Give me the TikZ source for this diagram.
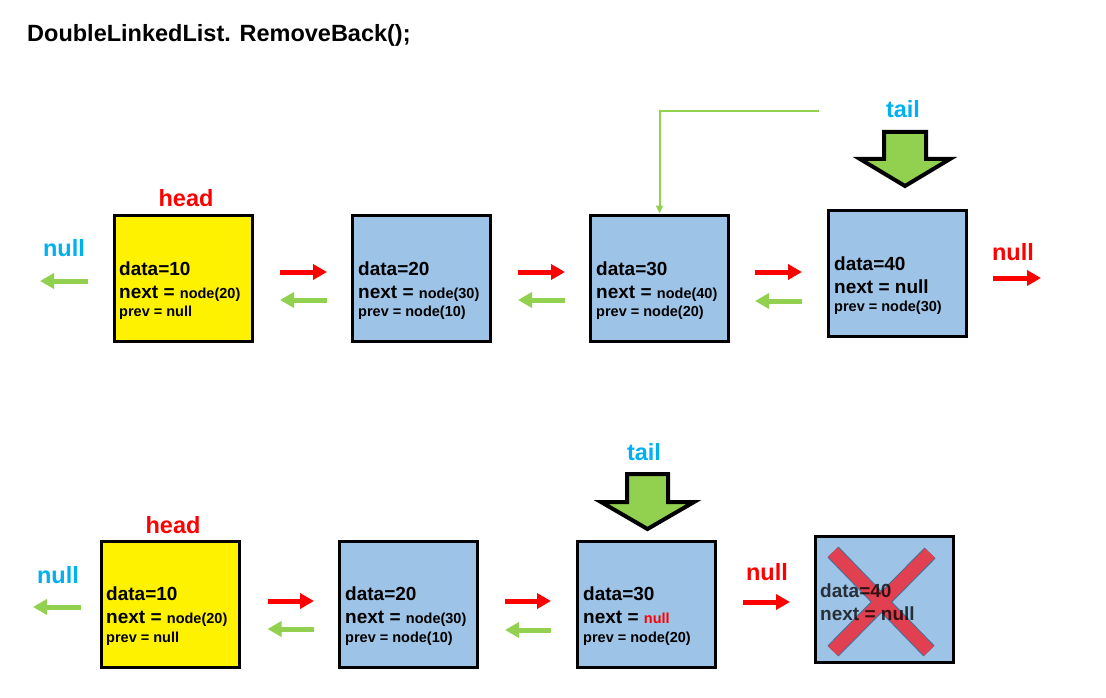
\documentclass[tikz,border=0pt]{standalone}
\usepackage{fontspec}
\setmainfont{Liberation Sans}
\usetikzlibrary{arrows.meta}
\definecolor{boxblue}{HTML}{9DC3E6}
\definecolor{lgreen}{HTML}{92D050}
\definecolor{skyblue}{HTML}{00B0F0}
\definecolor{xred}{HTML}{E0404F}
\definecolor{xedge}{HTML}{41719C}
\newcommand\smtxt{\fontsize{14.5}{15}\selectfont}
\begin{document}
\begin{tikzpicture}[x=1pt,y=-1pt,
  box/.style={draw=black, line width=3pt, minimum width=138pt, minimum height=126pt, inner sep=0pt},
  yellowbox/.style={box, fill=yellow},
  bluebox/.style={box, fill=boxblue},
  txt/.style={anchor=base west, inner sep=0pt, font=\bfseries\fontsize{19}{19}\selectfont},
  stxt/.style={anchor=base west, inner sep=0pt, font=\bfseries\smtxt},
  lbl/.style={anchor=base, inner sep=0pt, font=\bfseries\fontsize{23.5}{23.5}\selectfont},
  redarr/.style={draw=red, line width=5pt, -{Triangle[length=14pt,width=15pt]}},
  grnarr/.style={draw=lgreen, line width=5pt, -{Triangle[length=14pt,width=15pt]}},
  ptrline/.style={draw=lgreen, line width=2pt, -{Triangle[length=8pt,width=7pt]}},
  bigarrow/.style={draw=black, line width=4pt, fill=lgreen, line join=miter}
]
\useasboundingbox (0,0) rectangle (1106,698);
\node[anchor=base west, inner sep=0pt, font=\bfseries\fontsize{23.5}{23.5}\selectfont] (title) at (27,42) {DoubleLinkedList. RemoveBack();};

% ---------- top row ----------
\node[yellowbox] (b1) at (183.5,278) {};
\node[bluebox] (b2) at (421.5,278) {};
\node[bluebox] (b3) at (659.5,278) {};
\node[bluebox] (b4) at (897.5,273) {};

\node[txt] (b1a) at (119,275) {data=10};
\node[txt] (b1b) at (119,298) {next = {\smtxt node(20)}};
\node[stxt] (b1c) at (119,316) {prev = null};
\node[txt] (b2a) at (358,275) {data=20};
\node[txt] (b2b) at (358,298) {next = {\smtxt node(30)}};
\node[stxt] (b2c) at (358,316) {prev = node(10)};
\node[txt] (b3a) at (596,275) {data=30};
\node[txt] (b3b) at (596,298) {next = {\smtxt node(40)}};
\node[stxt] (b3c) at (596,316) {prev = node(20)};
\node[txt] (b4a) at (834,270) {data=40};
\node[txt] (b4b) at (834,293) {next = null};
\node[stxt] (b4c) at (834,311) {prev = node(30)};

\node[lbl, red] (headA) at (186,207) {head};
\node[lbl, skyblue] (tailA) at (903,118) {tail};
\node[lbl, skyblue] (nullLA) at (64,256) {null};
\node[lbl, red] (nullRA) at (1013,260) {null};

\draw[redarr, shorten <=26pt, shorten >=24pt] ([yshift=6pt]b1.east) -- ([yshift=6pt]b2.west);
\draw[grnarr, shorten <=24pt, shorten >=26pt] ([yshift=-22pt]b2.west) -- ([yshift=-22pt]b1.east);
\draw[redarr, shorten <=26pt, shorten >=24pt] ([yshift=6pt]b2.east) -- ([yshift=6pt]b3.west);
\draw[grnarr, shorten <=24pt, shorten >=26pt] ([yshift=-22pt]b3.west) -- ([yshift=-22pt]b2.east);
\draw[redarr, shorten <=25pt, shorten >=25pt] ([yshift=6pt]b3.east) -- ([yshift=1pt]b4.west);
\draw[grnarr, shorten <=25pt, shorten >=25pt] ([yshift=-28pt]b4.west) -- ([yshift=-23pt]b3.east);
\coordinate (endLA) at (40,281);
\draw[grnarr, shorten <=25pt] ([yshift=-3pt]b1.west) -- (endLA);
\coordinate (endRA) at (1041,278);
\draw[redarr, shorten <=25pt] ([yshift=-5pt]b4.east) -- (endRA);

\coordinate (oldtail) at (819,111);
\draw[ptrline] (oldtail) -| (b3.north);

\draw[bigarrow] (884,132) -- (926,132) -- (926,159) -- (950,159) -- (905,186) -- (860,159) -- (884,159) -- cycle;

% ---------- bottom row ----------
\node[yellowbox] (c1) at (170,604.5) {};
\node[bluebox] (c2) at (408.5,604.5) {};
\node[bluebox] (c3) at (646.5,604.5) {};
\node[bluebox] (c4) at (884.5,599.5) {};

\node[txt] (c1a) at (106,600) {data=10};
\node[txt] (c1b) at (106,623) {next = {\smtxt node(20)}};
\node[stxt] (c1c) at (106,642) {prev = null};
\node[txt] (c2a) at (345,600) {data=20};
\node[txt] (c2b) at (345,623) {next = {\smtxt node(30)}};
\node[stxt] (c2c) at (345,642) {prev = node(10)};
\node[txt] (c3a) at (583,600) {data=30};
\node[txt] (c3b) at (583,623) {next = {\smtxt\color{red} null}};
\node[stxt] (c3c) at (583,642) {prev = node(20)};

\begin{scope}[line cap=butt]
  \draw[xedge, line width=15.5pt] (833,552) -- (929,651) (930,553) -- (833,651);
  \draw[xred, line width=13.5pt] (833,552) -- (929,651) (930,553) -- (833,651);
\end{scope}
\node[txt, opacity=0.75] (c4a) at (820,597) {data=40};
\node[txt, opacity=0.75] (c4b) at (820,620) {next = null};

\node[lbl, red] (headB) at (173,533) {head};
\node[lbl, skyblue] (tailB) at (644,460) {tail};
\node[lbl, skyblue] (nullLB) at (58,583) {null};
\node[lbl, red] (nullRB) at (767,580) {null};

\draw[redarr, shorten <=27pt, shorten >=24pt] ([yshift=3.5pt]c1.east) -- ([yshift=3.5pt]c2.west);
\draw[grnarr, shorten <=24pt, shorten >=27pt] ([yshift=-24.5pt]c2.west) -- ([yshift=-24.5pt]c1.east);
\draw[redarr, shorten <=26pt, shorten >=25pt] ([yshift=3.5pt]c2.east) -- ([yshift=3.5pt]c3.west);
\draw[grnarr, shorten <=25pt, shorten >=26pt] ([yshift=-25.5pt]c3.west) -- ([yshift=-25.5pt]c2.east);
\draw[redarr, shorten <=26pt, shorten >=24pt] ([yshift=2.5pt]c3.east) -- ([yshift=-2.5pt]c4.west);
\coordinate (endLB) at (33,607);
\draw[grnarr, shorten <=19pt] ([yshift=-2.5pt]c1.west) -- (endLB);

\draw[bigarrow] (627,474) -- (668,474) -- (668,502) -- (694,502) -- (647.5,529) -- (601,502) -- (627,502) -- cycle;
\end{tikzpicture}
\end{document}
